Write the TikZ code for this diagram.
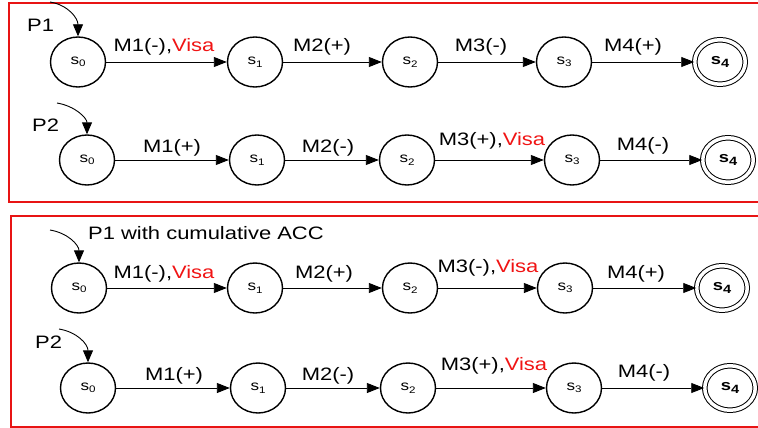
\documentclass[tikz,border=0pt]{standalone}
\usepackage{fontspec}
\setmainfont{Liberation Sans}[FakeStretch=1.22]
\usetikzlibrary{arrows.meta,shapes.geometric}
\definecolor{boxred}{RGB}{232,20,20}
\definecolor{visared}{RGB}{240,20,20}
\newcommand{\stlab}[1]{s\raisebox{-2.5pt}{\fontsize{9.5}{9.5}\selectfont #1}}
\newcommand{\finlab}[1]{\textbf{s\raisebox{-2.5pt}{\fontsize{12}{12}\selectfont #1}}}
\newcommand{\visa}{\textcolor{visared}{Visa}}
\begin{document}
\begin{tikzpicture}[x=1pt,y=-1pt,
  st/.style={ellipse,draw,line width=1.4pt,minimum width=55pt,minimum height=50pt,inner sep=0pt,font=\fontsize{14}{14}\selectfont},
  fin/.style={ellipse,draw,line width=1pt,double,double distance=3.5pt,minimum width=50.5pt,minimum height=44.5pt,inner sep=0pt,font=\fontsize{15}{15}\selectfont},
  tr/.style={-{Triangle[length=13pt,width=10pt]},line width=0.9pt},
  ini/.style={-{Triangle[length=12pt,width=10pt]},line width=0.9pt},
  lab/.style={anchor=base,inner sep=0pt,font=\fontsize{18}{18}\selectfont},
  plab/.style={anchor=base west,inner sep=0pt,font=\fontsize{18}{18}\selectfont},
  box/.style={draw=boxred,line width=1.6pt},
]
\useasboundingbox (0,0) rectangle (758,428);
% boxes
\draw[box] (760,3) -- (9,3) -- (9,202) -- (760,202);
\draw[box] (760,216) -- (11,216) -- (11,427) -- (760,427);

% Row 1
\node[st] (a0) at (78,62) {\stlab{0}};
\node[st] (a1) at (255,62) {\stlab{1}};
\node[st] (a2) at (410,62) {\stlab{2}};
\node[st] (a3) at (564,62) {\stlab{3}};
\node[fin] (a4) at (720,62) {\finlab{4}};
\draw[tr] (a0) -- (a1);
\draw[tr] (a1) -- (a2);
\draw[tr] (a2) -- (a3);
\draw[tr] (a3) -- (a4);
\node[lab] (la1) at (164,52) {M1(-),\visa};
\node[lab] (la2) at (322,52) {M2(+)};
\node[lab] (la3) at (481,52) {M3(-)};
\node[lab] (la4) at (633,52) {M4(+)};
\node[plab] (pa) at (27,32) {P1};
\coordinate (ca) at (50,2);
\draw[ini] (ca) .. controls (68,5) and (78,18) .. (a0.north);

% Row 2
\node[st] (b0) at (87,160) {\stlab{0}};
\node[st] (b1) at (257,160) {\stlab{1}};
\node[st] (b2) at (407,160) {\stlab{2}};
\node[st] (b3) at (572,160) {\stlab{3}};
\node[fin] (b4) at (728,160) {\finlab{4}};
\draw[tr] (b0) -- (b1);
\draw[tr] (b1) -- (b2);
\draw[tr] (b2) -- (b3);
\draw[tr] (b3) -- (b4);
\node[lab] (lb1) at (172,152) {M1(+)};
\node[lab] (lb2) at (328,152) {M2(-)};
\node[lab] (lb3) at (492,145) {M3(+),\visa};
\node[lab] (lb4) at (643,150) {M4(-)};
\node[plab] (pb) at (32,131) {P2};
\coordinate (cb) at (57,103);
\draw[ini] (cb) .. controls (75,106) and (87,118) .. (b0.north);

% Row 3
\node[st] (c0) at (79,288) {\stlab{0}};
\node[st] (c1) at (255,288) {\stlab{1}};
\node[st] (c2) at (410,288) {\stlab{2}};
\node[st] (c3) at (565,288) {\stlab{3}};
\node[fin] (c4) at (722,288) {\finlab{4}};
\draw[tr] (c0) -- (c1);
\draw[tr] (c1) -- (c2);
\draw[tr] (c2) -- (c3);
\draw[tr] (c3) -- (c4);
\node[lab] (lc1) at (164,278) {M1(-),\visa};
\node[lab] (lc2) at (324,278) {M2(+)};
\node[lab] (lc3) at (488,272) {M3(-),\visa};
\node[lab] (lc4) at (636,278) {M4(+)};
\node[plab] (pc) at (88,239) {P1 with cumulative ACC};
\coordinate (cc) at (50,230);
\draw[ini] (cc) .. controls (68,233) and (79,245) .. (c0.north);

% Row 4
\node[st] (d0) at (88,388) {\stlab{0}};
\node[st] (d1) at (258,388) {\stlab{1}};
\node[st] (d2) at (408,388) {\stlab{2}};
\node[st] (d3) at (574,388) {\stlab{3}};
\node[fin] (d4) at (730,388) {\finlab{4}};
\draw[tr] (d0) -- (d1);
\draw[tr] (d1) -- (d2);
\draw[tr] (d2) -- (d3);
\draw[tr] (d3) -- (d4);
\node[lab] (ld1) at (174,380) {M1(+)};
\node[lab] (ld2) at (328,380) {M2(-)};
\node[lab] (ld3) at (494,370) {M3(+),\visa};
\node[lab] (ld4) at (644,377) {M4(-)};
\node[plab] (pd) at (35,348) {P2};
\coordinate (cd) at (59,329);
\draw[ini] (cd) .. controls (77,332) and (88,344) .. (d0.north);
\end{tikzpicture}
\end{document}
